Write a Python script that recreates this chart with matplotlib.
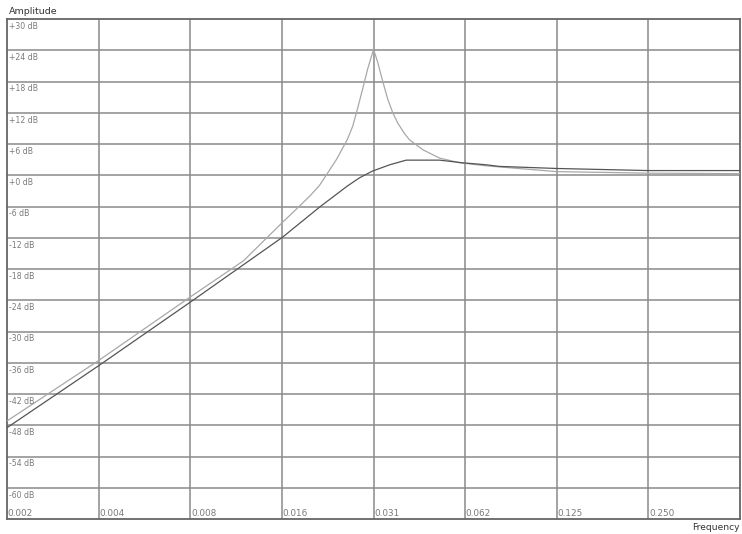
import numpy as np
import matplotlib
matplotlib.use("Agg")
import matplotlib.pyplot as plt

# frequency axis (octave grid) and amplitude grid
freq_ticks = [0.001953125, 0.00390625, 0.0078125, 0.015625, 0.03125, 0.0625, 0.125, 0.25]
freq_labels = ["0.002", "0.004", "0.008", "0.016", "0.031", "0.062", "0.125", "0.250"]
db_ticks = [30, 24, 18, 12, 6, 0, -6, -12, -18, -24, -30, -36, -42, -48, -54, -60]
db_labels = ["+30 dB", "+24 dB", "+18 dB", "+12 dB", "+6 dB", "+0 dB", "-6 dB", "-12 dB",
             "-18 dB", "-24 dB", "-30 dB", "-36 dB", "-42 dB", "-48 dB", "-54 dB", "-60 dB"]

# resonant response (light curve)
freq_res = [0.00195, 0.0039, 0.0078, 0.0117, 0.0156, 0.0166, 0.0193, 0.0208, 0.0236,
            0.02566, 0.02673, 0.02776, 0.02882, 0.02993, 0.0308, 0.03125, 0.0317, 0.03229,
            0.03352, 0.03481, 0.03615, 0.03756, 0.03951, 0.04103, 0.04538, 0.0515, 0.0599,
            0.0735, 0.125, 0.25, 0.5]
db_res = [-47.2, -35.6, -23.4, -16.4, -9.2, -7.7, -4.0, -1.9, 3.0,
          6.9, 9.5, 13.0, 16.7, 20.5, 22.9, 24.1, 23.1, 21.6,
          18.0, 14.6, 12.0, 10.0, 8.0, 6.8, 4.9, 3.3, 2.4,
          1.8, 0.7, 0.4, 0.3]

# flat response (dark curve)
freq_flat = [0.00195, 0.0039, 0.0078, 0.0157, 0.0208, 0.0256, 0.0281, 0.0310, 0.0353,
             0.0400, 0.0515, 0.0611, 0.0735, 0.0809, 0.125, 0.25, 0.5]
db_flat = [-48.5, -36.6, -24.4, -11.9, -6.1, -2.1, -0.5, 0.8, 2.0,
           2.9, 2.9, 2.4, 2.0, 1.7, 1.3, 0.9, 0.9]

W, H = 742, 534
fig = plt.figure(figsize=(W / 100, H / 100), dpi=100)
ax = fig.add_axes([7 / W, 1 - 519 / H, 733 / W, 500 / H])
ax.set_xscale("log", base=2)
ax.set_xlim(2 ** -9, 2 ** -1)
ax.set_ylim(-66, 30)

# grid
for f in freq_ticks[1:]:
    ax.axvline(f, color="#8a8a8a", lw=1.1, zorder=1)
for d in db_ticks[1:]:
    ax.axhline(d, color="#8a8a8a", lw=1.1, zorder=1)

ax.plot(freq_res, db_res, color="#a8a8a8", lw=0.9, zorder=3)
ax.plot(freq_flat, db_flat, color="#555555", lw=0.9, zorder=3)

ax.set_xticks([])
ax.set_yticks([])
ax.minorticks_off()
for s in ax.spines.values():
    s.set_color("#666666")
    s.set_linewidth(1.3)

for d, lab in zip(db_ticks, db_labels):
    ax.annotate(lab, xy=(2 ** -9, d), xytext=(1.5, -2), textcoords="offset points",
                ha="left", va="top", fontsize=5.6, color="#7a7a7a")
for f, lab in zip(freq_ticks, freq_labels):
    ax.annotate(lab, xy=(f, -66), xytext=(0.5, 1), textcoords="offset points",
                ha="left", va="bottom", fontsize=6.4, color="#7a7a7a")

fig.text(9 / W, 1 - 11 / H, "Amplitude", ha="left", va="center", fontsize=6.8, color="#333333")
fig.text(740 / W, 1 - 527 / H, "Frequency", ha="right", va="center", fontsize=6.6, color="#333333")

fig.savefig("out.png", dpi=100)
